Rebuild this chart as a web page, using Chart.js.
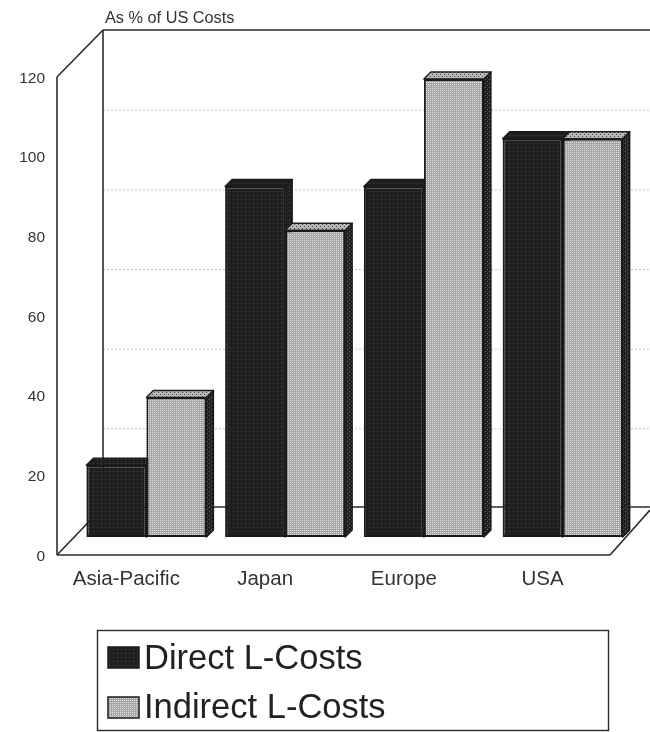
<!DOCTYPE html>
<html>
<head>
<meta charset="utf-8">
<style>
  html, body { margin: 0; padding: 0; background: #fff; }
  #wrap { position: relative; width: 650px; height: 732px; }
</style>
<script src="https://cdn.jsdelivr.net/npm/chart.js@4"></script>
</head>
<body>
<div id="wrap"><canvas id="chart" width="650" height="732"></canvas></div>
<script>
const categories = ['Asia-Pacific', 'Japan', 'Europe', 'USA'];
const directCosts = [18, 88, 88, 100];
const indirectCosts = [35, 77, 115, 100];
const yTitle = 'As % of US Costs';

const FONT = '"Liberation Sans", Arial, sans-serif';
const INK = '#333333';
const EDGE = '#1b1b1b';

// Fine screen-tone fills for the two series
function tone(size, base, dot, cells) {
  const c = document.createElement('canvas');
  c.width = c.height = size;
  const g = c.getContext('2d');
  g.fillStyle = base;
  g.fillRect(0, 0, size, size);
  g.fillStyle = dot;
  cells.forEach(([x, y]) => g.fillRect(x, y, 1, 1));
  return g.createPattern(c, 'repeat');
}
const ctx0 = document.getElementById('chart').getContext('2d');
const directTone = tone(4, '#1f1f1f', '#4a4a4a', [[1, 1]]);
const indirectTone = tone(4, '#a6a6a6', '#e2e2e2', [[0, 0], [2, 2], [2, 0], [0, 2]]);
const sideTone = tone(4, '#222222', '#6a6a6a', [[1, 1], [3, 3]]);
const capTone = tone(4, '#b8b8b8', '#444444', [[0, 0], [2, 2]]);

// Depth of the box (back wall relative to the front plane) and placement of the bars in it
const WALL = { dx: 46, dy: 47, floorDy: 48, right: 650 };
const ROW = { dx: 20, dy: 18, depth: 7 };

function seg(ctx, x1, y1, x2, y2) {
  ctx.beginPath();
  ctx.moveTo(x1, y1);
  ctx.lineTo(x2, y2);
  ctx.stroke();
}

const box3d = {
  id: 'box3d',
  beforeDatasetsDraw(chart) {
    const { ctx, chartArea: a, scales: { y } } = chart;
    const y0 = y.getPixelForValue(0);
    const yMax = y.getPixelForValue(120);

    ctx.save();
    // Grid on the back wall, plus its faint continuation on the side wall
    y.ticks.forEach(t => {
      if (t.value === 0 || t.value === 120) return;
      const py = y.getPixelForValue(t.value);
      ctx.lineWidth = 1;
      ctx.strokeStyle = '#ededed';
      ctx.setLineDash([2, 3]);
      seg(ctx, a.left, py, a.left + WALL.dx, py - WALL.dy);
      ctx.strokeStyle = '#c2c2c2';
      ctx.setLineDash([2, 2]);
      seg(ctx, a.left + WALL.dx, py - WALL.dy + 0.5, WALL.right, py - WALL.dy + 0.5);
    });
    ctx.setLineDash([]);

    // Box frame
    ctx.strokeStyle = '#2b2b2b';
    ctx.lineWidth = 1.6;
    const backLeft = a.left + WALL.dx;
    const frontRight = a.right - 2;
    seg(ctx, a.left, yMax, a.left, y0);
    seg(ctx, a.left, y0, frontRight, y0);
    seg(ctx, a.left, yMax, backLeft, yMax - WALL.dy);
    seg(ctx, backLeft, yMax - WALL.dy, WALL.right, yMax - WALL.dy);
    seg(ctx, backLeft, yMax - WALL.dy, backLeft, y0 - WALL.floorDy);
    seg(ctx, a.left, y0, backLeft, y0 - WALL.floorDy);
    seg(ctx, backLeft, y0 - WALL.floorDy, WALL.right, y0 - WALL.floorDy);
    seg(ctx, frontRight, y0, WALL.right, y0 - WALL.floorDy + 3);
    ctx.restore();

    // Every bar sits part way into the box
    ctx.save();
    ctx.translate(ROW.dx, -ROW.dy);

    // Tops and sides first, so the flat faces land over them
    chart.data.datasets.forEach((ds, i) => {
      chart.getDatasetMeta(i).data.forEach(bar => {
        const { x, y: top, base, width } = bar.getProps(['x', 'y', 'base', 'width'], true);
        const l = x - width / 2, r = x + width / 2, d = ROW.depth;
        ctx.lineWidth = 1.5;
        ctx.strokeStyle = EDGE;
        ctx.lineJoin = 'round';
        ctx.fillStyle = i === 0 ? directTone : sideTone;
        ctx.beginPath();
        ctx.moveTo(r, top);
        ctx.lineTo(r + d, top - d);
        ctx.lineTo(r + d, base - d);
        ctx.lineTo(r, base);
        ctx.closePath();
        ctx.fill();
        ctx.stroke();
        ctx.fillStyle = i === 0 ? directTone : capTone;
        ctx.beginPath();
        ctx.moveTo(l, top);
        ctx.lineTo(l + d, top - d);
        ctx.lineTo(r + d, top - d);
        ctx.lineTo(r, top);
        ctx.closePath();
        ctx.fill();
        ctx.stroke();
      });
    });
  },
  afterDatasetsDraw(chart) {
    chart.ctx.restore();
  },
  afterDraw(chart) {
    const { ctx } = chart;
    ctx.save();
    ctx.fillStyle = INK;
    ctx.textBaseline = 'alphabetic';
    ctx.textAlign = 'left';

    // Unit caption above the back wall
    ctx.font = '16.3px ' + FONT;
    ctx.fillText(yTitle, 105, 23);

    // Legend panel
    ctx.strokeStyle = '#2b2b2b';
    ctx.lineWidth = 1.4;
    ctx.strokeRect(97.5, 630.5, 511, 100);
    const rows = [
      { swatch: 647, baseline: 669 },
      { swatch: 697, baseline: 718 }
    ];
    chart.data.datasets.forEach((ds, i) => {
      ctx.fillStyle = ds.backgroundColor;
      ctx.strokeStyle = EDGE;
      ctx.lineWidth = 1.5;
      ctx.fillRect(108, rows[i].swatch, 31, 21);
      ctx.strokeRect(108, rows[i].swatch, 31, 21);
      ctx.fillStyle = '#222222';
      ctx.font = '34.5px ' + FONT;
      ctx.fillText(ds.label, 144, rows[i].baseline);
    });
    ctx.restore();
  }
};

new Chart(ctx0, {
  type: 'bar',
  data: {
    labels: categories,
    datasets: [
      { label: 'Direct L-Costs', data: directCosts, backgroundColor: directTone, clip: false },
      { label: 'Indirect L-Costs', data: indirectCosts, backgroundColor: indirectTone, clip: false }
    ]
  },
  options: {
    responsive: false,
    animation: false,
    layout: { padding: { top: 77, right: 38, left: 0, bottom: 0 } },
    datasets: {
      bar: {
        categoryPercentage: 0.865,
        barPercentage: 1,
        borderColor: EDGE,
        borderWidth: 2,
        borderSkipped: false
      }
    },
    plugins: {
      legend: { display: false },
      title: { display: false },
      tooltip: { enabled: false }
    },
    scales: {
      x: {
        grid: { display: false, drawTicks: false },
        border: { display: false },
        ticks: { color: INK, font: { family: FONT, size: 20.5 }, padding: 12, maxRotation: 0 },
        afterFit(scale) { scale.height = 177; }
      },
      y: {
        min: 0,
        max: 120,
        grid: { display: false, drawTicks: false },
        border: { display: false },
        ticks: { stepSize: 20, color: INK, font: { family: FONT, size: 15.5 }, padding: 12, labelOffset: 1.5 },
        afterFit(scale) { scale.width = 57; }
      }
    }
  },
  plugins: [box3d]
});
</script>
</body>
</html>
